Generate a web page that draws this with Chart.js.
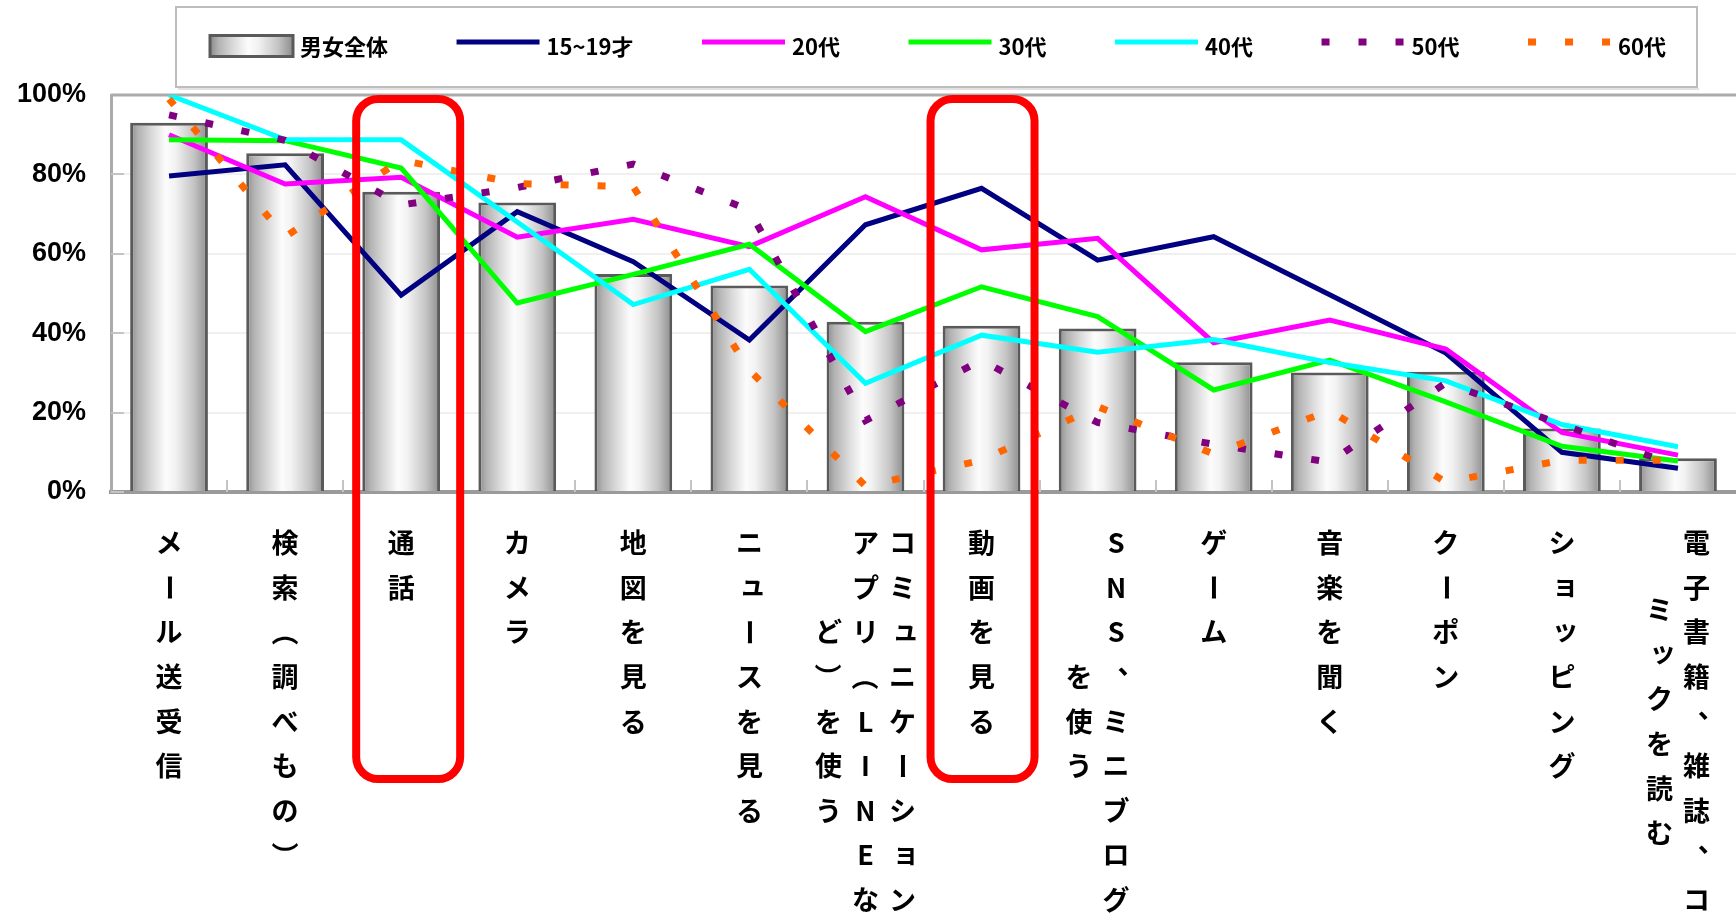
<!DOCTYPE html>
<html lang="ja">
<head>
<meta charset="utf-8">
<title>スマートフォンの利用内容（年代別）</title>
<script src="https://cdn.jsdelivr.net/npm/chart.js@4.4.1/dist/chart.umd.min.js"></script>
<style>
  html, body { margin: 0; padding: 0; background: #ffffff; }
  #wrap { width: 1736px; height: 914px; overflow: hidden; }
  canvas { display: block; }
</style>
</head>
<body>
<div id="wrap"><canvas id="chart" width="1736" height="914"></canvas></div>
<script>
// 利用内容（縦書きラベルの列ごとに分割、右の列から順に）
const categories = [
  ['メール送受信'],
  ['検索（調べもの）'],
  ['通話'],
  ['カメラ'],
  ['地図を見る'],
  ['ニュースを見る'],
  ['コミュニケーション', 'アプリ（LINEな', 'ど）を使う'],
  ['動画を見る'],
  ['SNS、ミニブログ', 'を使う'],
  ['ゲーム'],
  ['音楽を聞く'],
  ['クーポン'],
  ['ショッピング'],
  ['電子書籍、雑誌、コ', 'ミックを読む']
];

const seriesNames = ['男女全体', '15~19才', '20代', '30代', '40代', '50代', '60代'];

// 利用率（%）
const allUsers  = [93.0, 85.3, 75.6, 72.9, 54.9, 52.0, 42.9, 41.9, 41.2, 32.7, 30.1, 30.3, 16.0, 8.5];
const age15to19 = [79.6, 82.4, 49.6, 70.6, 58.0, 38.3, 67.3, 76.5, 58.4, 64.3, 49.7, 35.0, 10.0, 6.0];
const age20s    = [90.0, 77.6, 79.3, 64.2, 68.7, 61.8, 74.4, 61.0, 63.9, 37.6, 43.3, 36.0, 15.0, 9.3];
const age30s    = [88.7, 88.5, 81.6, 47.6, 54.8, 62.4, 40.4, 51.7, 44.2, 25.7, 33.2, 22.7, 11.5, 7.8];
const age40s    = [100.0, 88.8, 88.7, 68.0, 47.2, 56.1, 27.4, 39.5, 35.2, 38.4, 32.6, 28.0, 17.0, 11.4];
const age50s    = [95.0, 88.6, 72.3, 76.7, 82.6, 71.0, 18.0, 33.2, 17.5, 12.0, 7.5, 27.5, 17.0, 6.5];
const age60s    = [99.0, 64.3, 83.6, 77.7, 76.9, 30.7, 1.5, 8.0, 21.5, 9.6, 20.5, 2.5, 8.0, 8.0];

// 縦軸の目盛り
const yTicks = [0, 20, 40, 60, 80, 100];
const yTickLabels = ['0%', '20%', '40%', '60%', '80%', '100%'];

// 強調枠をつける項目（通話・動画を見る）
const highlighted = [2, 7];

const BAR_FRACTION = 0.67;
const CJK_FONT = '"Noto Sans CJK JP", "Noto Sans", sans-serif';

// 円柱風のグラデーション
function barGradient(c, x0, x1) {
  const g = c.createLinearGradient(x0, 0, x1, 0);
  g.addColorStop(0.00, '#8a8a8a');
  g.addColorStop(0.10, '#b2b2b2');
  g.addColorStop(0.28, '#dadada');
  g.addColorStop(0.46, '#fcfcfc');
  g.addColorStop(0.58, '#f2f2f2');
  g.addColorStop(0.82, '#c4c4c4');
  g.addColorStop(1.00, '#8c8c8c');
  return g;
}

function barFill(context) {
  const chart = context.chart;
  const xs = chart.scales && chart.scales.x;
  if (context.type !== 'data' || !xs || !chart.chartArea) return '#d0d0d0';
  const cx = xs.getPixelForValue(context.dataIndex);
  const step = xs.getPixelForValue(1) - xs.getPixelForValue(0);
  const half = step * BAR_FRACTION / 2;
  return barGradient(chart.ctx, cx - half, cx + half);
}

// プロット枠の上辺と内向きの目盛り線
const plotFrame = {
  id: 'plotFrame',
  beforeDatasetsDraw(chart) {
    const { ctx, chartArea: a, scales: { x, y } } = chart;
    ctx.save();
    ctx.strokeStyle = '#c4c4c4';
    ctx.lineWidth = 2;
    y.ticks.forEach((t, i) => {
      const py = Math.round(y.getPixelForTick(i));
      ctx.beginPath();
      ctx.moveTo(a.left, py);
      ctx.lineTo(a.left + 13, py);
      ctx.stroke();
    });
    for (let i = 1; i < categories.length; i++) {
      const px = Math.round((x.getPixelForValue(i - 1) + x.getPixelForValue(i)) / 2);
      ctx.beginPath();
      ctx.moveTo(px, a.bottom);
      ctx.lineTo(px, a.bottom - 12);
      ctx.stroke();
    }
    ctx.strokeStyle = '#ababab';
    ctx.lineWidth = 3;
    ctx.beginPath();
    ctx.moveTo(a.left, a.top);
    ctx.lineTo(a.right, a.top);
    ctx.stroke();
    ctx.restore();
  }
};

// 縦書きの項目名
const ROTATED = new Set(['ー', '（', '）', '〜', '－']);
const CORNER = new Set(['、', '。']);
const SMALL = new Set(['ャ', 'ュ', 'ョ', 'ッ', 'ァ', 'ィ', 'ゥ', 'ェ', 'ォ', 'ゃ', 'ゅ', 'ょ', 'っ']);

function drawUprightChar(ctx, ch, x, y, size) {
  ctx.save();
  ctx.translate(x, y);
  if (ROTATED.has(ch)) {
    ctx.rotate(Math.PI / 2);
  } else if (CORNER.has(ch)) {
    ctx.translate(size * 0.55, -size * 0.5);
  } else if (SMALL.has(ch)) {
    ctx.translate(size * 0.12, -size * 0.1);
  }
  ctx.fillText(ch, 0, 0);
  ctx.restore();
}

const verticalLabels = {
  id: 'verticalLabels',
  afterDraw(chart, args, opts) {
    const { ctx, chartArea: a, scales: { x } } = chart;
    ctx.save();
    ctx.fillStyle = opts.color;
    ctx.font = `${opts.weight} ${opts.size}px ${CJK_FONT}`;
    ctx.textAlign = 'center';
    ctx.textBaseline = 'middle';
    chart.data.labels.forEach((cols, i) => {
      const cx = x.getPixelForValue(i);
      const lens = cols.map(c => Array.from(c).length);
      const maxLen = Math.max(...lens);
      cols.forEach((col, c) => {
        const colX = cx + ((cols.length - 1) / 2 - c) * opts.columnGap;
        const offset = (maxLen - lens[c]) / 2;
        Array.from(col).forEach((ch, r) => {
          const rowY = a.bottom + opts.firstRow + (offset + r) * opts.rowGap;
          drawUprightChar(ctx, ch, colX, rowY, opts.size);
        });
      });
    });
    ctx.restore();
  }
};

// 赤い角丸の強調枠
const highlightBoxes = {
  id: 'highlightBoxes',
  afterDraw(chart, args, opts) {
    const { ctx, chartArea: a, scales: { x } } = chart;
    ctx.save();
    ctx.strokeStyle = opts.color;
    ctx.lineWidth = opts.lineWidth;
    opts.items.forEach((index, k) => {
      const cx = x.getPixelForValue(index) + opts.nudge[k];
      const x0 = cx - opts.width / 2;
      const y0 = a.top + opts.lineWidth / 2;
      const y1 = a.bottom + opts.below;
      ctx.beginPath();
      ctx.roundRect(x0, y0, opts.width, y1 - y0, opts.radius);
      ctx.stroke();
    });
    ctx.restore();
  }
};

// 枠付きの凡例
const framedLegend = {
  id: 'framedLegend',
  afterDraw(chart, args, opts) {
    const ctx = chart.ctx;
    const sets = chart.data.datasets;
    ctx.save();
    ctx.strokeStyle = '#bdbdbd';
    ctx.lineWidth = 2;
    ctx.strokeRect(opts.left, opts.top, opts.right - opts.left, opts.bottom - opts.top);
    ctx.strokeStyle = '#e2e2e2';
    ctx.beginPath();
    ctx.moveTo(opts.left + 2, opts.bottom + 2);
    ctx.lineTo(opts.right + 2, opts.bottom + 2);
    ctx.stroke();

    ctx.font = `${opts.weight} ${opts.size}px ${CJK_FONT}`;
    ctx.textBaseline = 'middle';
    ctx.textAlign = 'left';
    const widths = sets.map(ds => ctx.measureText(ds.label).width);
    const used = widths.reduce((s, w) => s + w, 0) + sets.length * (opts.swatch + opts.textGap);
    const gap = (opts.end - opts.start - used) / (sets.length - 1);
    let px = opts.start;
    sets.forEach((ds, i) => {
      if (ds.type === 'bar') {
        const h = opts.boxHeight;
        ctx.fillStyle = barGradient(ctx, px, px + opts.swatch);
        ctx.fillRect(px, opts.lineY - h / 2 + 4, opts.swatch, h);
        ctx.strokeStyle = ds.borderColor;
        ctx.lineWidth = 3;
        ctx.strokeRect(px, opts.lineY - h / 2 + 4, opts.swatch, h);
      } else {
        ctx.strokeStyle = ds.borderColor;
        ctx.lineWidth = ds.borderWidth;
        ctx.setLineDash(ds.borderDash || []);
        ctx.beginPath();
        ctx.moveTo(px, opts.lineY);
        ctx.lineTo(px + opts.swatch, opts.lineY);
        ctx.stroke();
        ctx.setLineDash([]);
      }
      ctx.fillStyle = '#000000';
      ctx.fillText(ds.label, px + opts.swatch + opts.textGap, opts.textY);
      px += opts.swatch + opts.textGap + widths[i] + gap;
    });
    ctx.restore();
  }
};

function lineSet(label, data, color, order, dash) {
  return {
    type: 'line',
    label,
    data,
    borderColor: color,
    backgroundColor: color,
    borderWidth: dash ? 7 : 5,
    borderDash: dash || [],
    borderCapStyle: 'butt',
    pointRadius: 0,
    pointHoverRadius: 0,
    tension: 0,
    fill: false,
    order
  };
}

const DOTS = [8, 29];

new Chart(document.getElementById('chart'), {
  data: {
    labels: categories,
    datasets: [
      {
        type: 'bar',
        label: seriesNames[0],
        data: allUsers,
        backgroundColor: barFill,
        borderColor: '#5a5a5a',
        borderWidth: 3,
        categoryPercentage: 1,
        barPercentage: BAR_FRACTION,
        order: 10
      },
      lineSet(seriesNames[1], age15to19, '#000080', 6),
      lineSet(seriesNames[2], age20s, '#ff00ff', 5),
      lineSet(seriesNames[3], age30s, '#00ff00', 4),
      lineSet(seriesNames[4], age40s, '#00ffff', 3),
      lineSet(seriesNames[5], age50s, '#800080', 2, DOTS),
      lineSet(seriesNames[6], age60s, '#ff6600', 1, DOTS)
    ]
  },
  plugins: [plotFrame, verticalLabels, highlightBoxes, framedLegend],
  options: {
    responsive: false,
    animation: false,
    devicePixelRatio: 1,
    events: [],
    layout: { padding: { top: 95, bottom: 422, left: 0, right: 0 } },
    plugins: {
      legend: { display: false },
      tooltip: { enabled: false },
      verticalLabels: { size: 27, weight: 'bold', color: '#000000', firstRow: 51, rowGap: 44.6, columnGap: 37 },
      highlightBoxes: { items: highlighted, nudge: [7, 1], width: 104, lineWidth: 8, radius: 22, below: 287, color: '#ff0000' },
      framedLegend: {
        left: 176, top: 7, right: 1697, bottom: 87,
        start: 210, end: 1666, swatch: 83, textGap: 7,
        lineY: 42, textY: 47, boxHeight: 21,
        size: 22, weight: 'bold'
      }
    },
    scales: {
      x: {
        type: 'category',
        offset: true,
        grid: { display: false, drawTicks: false },
        border: { display: true, color: '#9a9a9a', width: 4 },
        ticks: { display: false }
      },
      y: {
        type: 'linear',
        min: 0,
        max: 100,
        afterFit(scale) { scale.width = 111; },
        afterBuildTicks(scale) { scale.ticks = yTicks.map(v => ({ value: v })); },
        ticks: {
          padding: 25,
          color: '#000000',
          font: { family: '"Liberation Sans", Arial, sans-serif', size: 27, weight: 'bold' },
          callback: (v) => yTickLabels[yTicks.indexOf(v)]
        },
        grid: { color: '#f0f0f0', lineWidth: 2, drawTicks: false },
        border: { display: true, color: '#ababab', width: 3 }
      }
    }
  }
});
</script>
</body>
</html>
